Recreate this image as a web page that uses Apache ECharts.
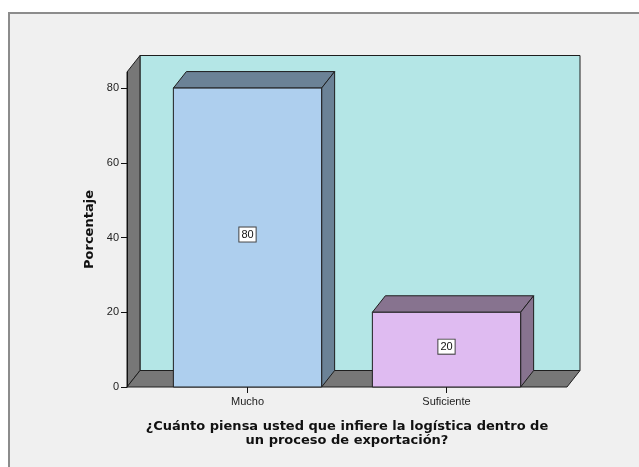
<!DOCTYPE html>
<html>
<head>
<meta charset="utf-8" />
<title>Porcentaje</title>
<script src="https://cdn.jsdelivr.net/npm/echarts@6/dist/echarts.min.js"></script>
<style>
	html, body { margin: 0; padding: 0; background: #fff; }
	#chart { width: 639px; height: 467px; }
</style>
</head>
<body>
<div id="chart"></div>
<script type="text/javascript">
	// datos
	var categories = ['Mucho', 'Suficiente'];
	var percentages = [80, 20];
	var yTicks = [0, 20, 40, 60, 80];
	var yMax = 84.3;

	// colores
	var frontColors = ['#aecfee', '#dfbbf1'];
	var shadeColors = ['#6b8296', '#87738f'];
	var DX = 13, DY = 16.5; // profundidad 3D

	function renderWalls(params, api) {
		var cs = params.coordSys;
		var x0 = cs.x, x1 = cs.x + cs.width, yT = cs.y, yB = cs.y + cs.height;
		var line = { stroke: '#1e1e1e', lineWidth: 1 };
		return {
			type: 'group',
			children: [{
				type: 'rect',
				shape: { x: x0 + DX, y: yT - DY, width: cs.width, height: cs.height },
				style: Object.assign({ fill: '#b4e6e6' }, line)
			}, {
				type: 'polygon',
				shape: { points: [[x0, yT], [x0 + DX, yT - DY], [x0 + DX, yB - DY], [x0, yB]] },
				style: Object.assign({ fill: '#777777' }, line)
			}, {
				type: 'polygon',
				shape: { points: [[x0, yB], [x1, yB], [x1 + DX, yB - DY], [x0 + DX, yB - DY]] },
				style: Object.assign({ fill: '#777777' }, line)
			}]
		};
	}

	function renderBar(params, api) {
		var i = params.dataIndex;
		var base = api.coord([api.value(0), 0]);
		var top = api.coord([api.value(0), api.value(1)]);
		var mid = api.coord([api.value(0), api.value(1) / 2]);
		var w = api.size([1, 0])[0] * 0.745;
		var xa = base[0] - w / 2, xb = base[0] + w / 2, yb = base[1], yt = top[1];
		var line = { stroke: '#1e1e1e', lineWidth: 1 };
		return {
			type: 'group',
			children: [{
				type: 'polygon',
				shape: { points: [[xa, yt], [xa + DX, yt - DY], [xb + DX, yt - DY], [xb, yt]] },
				style: Object.assign({ fill: shadeColors[i] }, line)
			}, {
				type: 'polygon',
				shape: { points: [[xb, yt], [xb + DX, yt - DY], [xb + DX, yb - DY], [xb, yb]] },
				style: Object.assign({ fill: shadeColors[i] }, line)
			}, {
				type: 'rect',
				shape: { x: xa, y: yt, width: w, height: yb - yt },
				style: Object.assign({ fill: frontColors[i] }, line)
			}, {
				type: 'text',
				x: mid[0],
				y: mid[1] - 3,
				style: {
					text: String(api.value(1)),
					align: 'center',
					verticalAlign: 'middle',
					font: '11px "Liberation Sans", Arial, sans-serif',
					fill: '#111',
					backgroundColor: '#fff',
					borderColor: '#444',
					borderWidth: 1,
					padding: [2, 2, 1, 2]
				}
			}]
		};
	}

	var myChart = echarts.init(document.getElementById('chart'));
	var option = {
		animation: false,
		backgroundColor: '#ffffff',
		graphic: [{
			type: 'rect',
			z: -10,
			shape: { x: 9, y: 13, width: 700, height: 500 },
			style: { fill: '#f0f0f0', stroke: '#8c8c8c', lineWidth: 2 }
		}],
		grid: [
			{ left: 127, right: 72, top: 72, bottom: 80 },  // paredes
			{ left: 148, right: 93, top: 72, bottom: 80 }   // barras
		],
		xAxis: [{
			gridIndex: 0, type: 'value', min: 0, max: 1, show: false
		}, {
			gridIndex: 1,
			type: 'category',
			data: categories,
			axisLine: { show: false },
			axisTick: { show: true, alignWithLabel: true, length: 6, lineStyle: { color: '#111' } },
			axisLabel: { fontSize: 11, color: '#222', margin: 9, fontFamily: 'Liberation Sans, Arial, sans-serif' },
			name: '¿Cuánto piensa usted que infiere la logística dentro de\nun proceso de exportación?',
			nameLocation: 'middle',
			nameGap: 33,
			nameTextStyle: {
				fontSize: 13, fontWeight: 'bold', color: '#111', lineHeight: 14,
				fontFamily: 'DejaVu Sans, sans-serif'
			}
		}],
		yAxis: [{
			gridIndex: 0,
			type: 'value',
			min: yTicks[0],
			max: yMax,
			interval: yTicks[1] - yTicks[0],
			splitLine: { show: false },
			axisLine: { show: true, lineStyle: { color: '#111' } },
			axisTick: { show: true, length: 6, lineStyle: { color: '#111' } },
			axisLabel: {
				fontSize: 11, color: '#222', margin: 8,
				fontFamily: 'Liberation Sans, Arial, sans-serif',
				showMaxLabel: false,
				formatter: function (v) { return yTicks.indexOf(v) >= 0 ? String(v) : ''; }
			},
			name: 'Porcentaje',
			nameLocation: 'middle',
			nameGap: 31,
			nameTextStyle: {
				fontSize: 13, fontWeight: 'bold', color: '#111',
				fontFamily: 'DejaVu Sans, sans-serif'
			},
			z: 5
		}, {
			gridIndex: 1, type: 'value', min: yTicks[0], max: yMax, show: false
		}],
		series: [{
			type: 'custom',
			xAxisIndex: 0,
			yAxisIndex: 0,
			z: 1,
			silent: true,
			clip: false,
			renderItem: renderWalls,
			data: [[0, 0]]
		}, {
			type: 'custom',
			xAxisIndex: 1,
			yAxisIndex: 1,
			z: 3,
			clip: false,
			renderItem: renderBar,
			data: categories.map(function (c, i) { return [i, percentages[i]]; })
		}]
	};
	myChart.setOption(option);
</script>
</body>
</html>
